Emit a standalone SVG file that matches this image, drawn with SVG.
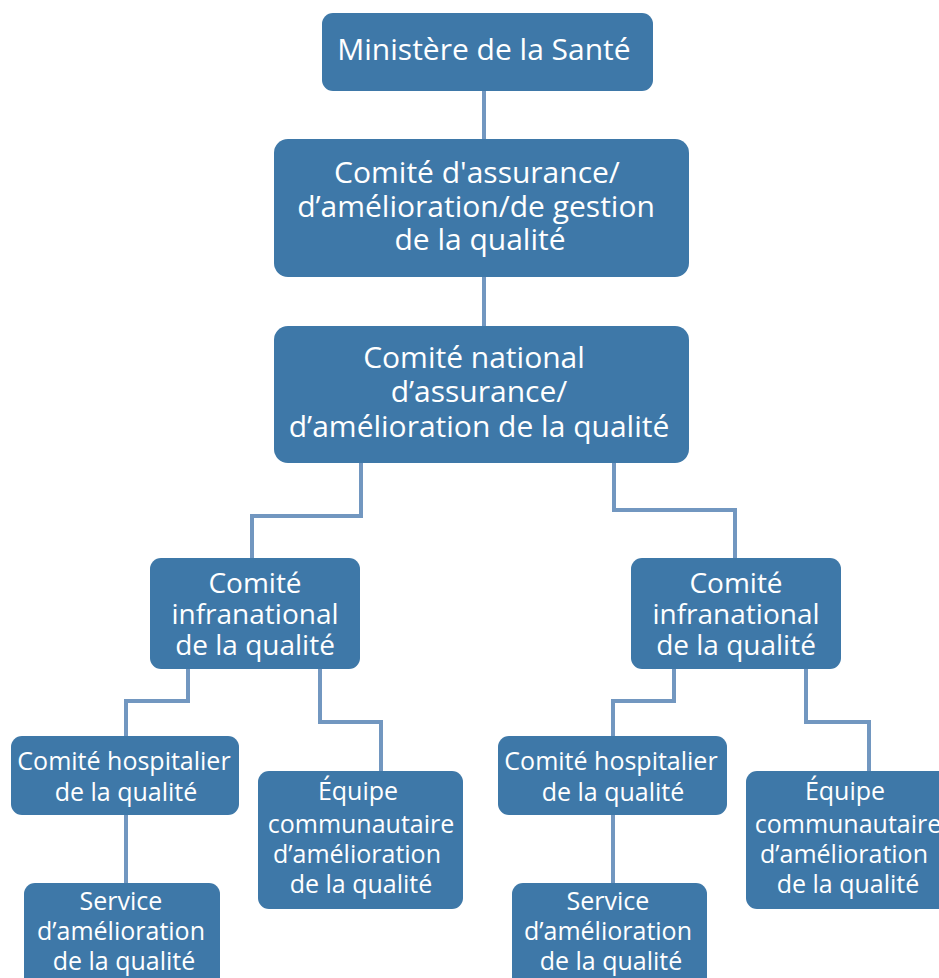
<svg xmlns="http://www.w3.org/2000/svg" width="939" height="978" viewBox="0 0 939 978">
<style>
.box{fill:#3E78A8;}
.t{fill:#ffffff;font-family:"Open Sans","Noto Sans",sans-serif;text-anchor:middle;}
.big{font-size:30px;}
.mid{font-size:28px;}
.sm{font-size:25px;}
.c{fill:none;stroke:#7297C0;stroke-width:4;}
</style>
<rect width="939" height="978" fill="#ffffff"/>
<g id="connectors">
<path class="c" d="M484 91V140"/>
<path class="c" d="M484 277V326"/>
<path class="c" d="M361 463V516H252V558"/>
<path class="c" d="M614 463V510H735V558"/>
<path class="c" d="M188 669V701H126V737"/>
<path class="c" d="M320 669V722H381V771"/>
<path class="c" d="M126 815V883"/>
<path class="c" d="M674 669V701H613V737"/>
<path class="c" d="M806 669V722H869V771"/>
<path class="c" d="M613 815V883"/>
</g>
<g id="n1"><rect class="box" x="322" y="13" width="331" height="78" rx="11"/>
<text class="t big" x="484" y="60">Ministère de la Santé</text></g>
<g id="n2"><rect class="box" x="274" y="139" width="415" height="138" rx="14"/>
<text class="t big" x="477" y="183">Comité d'assurance/</text>
<text class="t big" x="476" y="217">d’amélioration/de gestion</text>
<text class="t big" x="480" y="250">de la qualité</text></g>
<g id="n3"><rect class="box" x="274" y="326" width="415" height="137" rx="14"/>
<text class="t big" x="474" y="368">Comité national</text>
<text class="t big" x="479" y="402">d’assurance/</text>
<text class="t big" x="479" y="437">d’amélioration de la qualité</text></g>
<g id="n4"><rect class="box" x="150" y="558" width="210" height="111" rx="11"/>
<text class="t mid" x="255" y="593">Comité</text>
<text class="t mid" x="255" y="624">infranational</text>
<text class="t mid" x="255" y="655">de la qualité</text></g>
<g id="n5"><rect class="box" x="631" y="558" width="210" height="111" rx="11"/>
<text class="t mid" x="736" y="593">Comité</text>
<text class="t mid" x="736" y="624">infranational</text>
<text class="t mid" x="736" y="655">de la qualité</text></g>
<g id="n6"><rect class="box" x="11" y="736" width="228" height="79" rx="11"/>
<text class="t sm" x="124" y="770">Comité hospitalier</text>
<text class="t sm" x="126" y="801">de la qualité</text></g>
<g id="n7"><rect class="box" x="258" y="771" width="205" height="138" rx="11"/>
<text class="t sm" x="358" y="800">Équipe</text>
<text class="t sm" x="361" y="833">communautaire</text>
<text class="t sm" x="357" y="863">d’amélioration</text>
<text class="t sm" x="361" y="893">de la qualité</text></g>
<g id="n8"><rect class="box" x="24" y="883" width="196" height="110" rx="11"/>
<text class="t sm" x="121" y="910">Service</text>
<text class="t sm" x="121" y="940">d’amélioration</text>
<text class="t sm" x="124" y="970">de la qualité</text></g>
<g id="n9"><rect class="box" x="498" y="736" width="229" height="79" rx="11"/>
<text class="t sm" x="611" y="770">Comité hospitalier</text>
<text class="t sm" x="613" y="801">de la qualité</text></g>
<g id="n10"><rect class="box" x="746" y="771" width="205" height="138" rx="11"/>
<text class="t sm" x="845" y="800">Équipe</text>
<text class="t sm" x="848" y="833">communautaire</text>
<text class="t sm" x="844" y="863">d’amélioration</text>
<text class="t sm" x="848" y="893">de la qualité</text></g>
<g id="n11"><rect class="box" x="512" y="883" width="195" height="110" rx="11"/>
<text class="t sm" x="608" y="910">Service</text>
<text class="t sm" x="608" y="940">d’amélioration</text>
<text class="t sm" x="611" y="970">de la qualité</text></g>
</svg>
